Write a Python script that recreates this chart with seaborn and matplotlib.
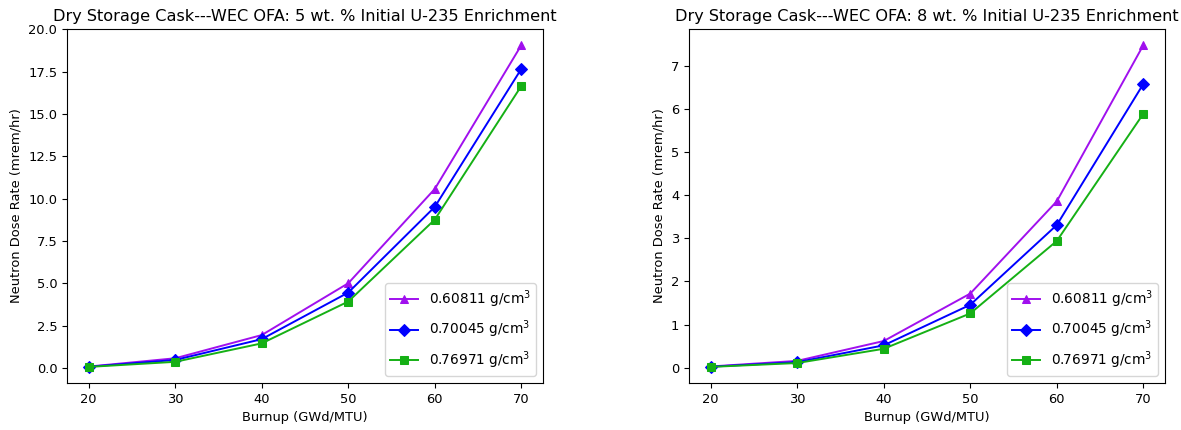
import matplotlib
matplotlib.use("Agg")
import matplotlib.pyplot as plt
import seaborn as sns
import pandas as pd

burnup = [20, 30, 40, 50, 60, 70]
labels = ["0.60811 g/cm$^3$", "0.70045 g/cm$^3$", "0.76971 g/cm$^3$"]

# 5 wt.% enrichment
dose5_a = [0.08, 0.57, 1.94, 5.00, 10.57, 19.06]
dose5_b = [0.07, 0.47, 1.70, 4.45, 9.51, 17.66]
dose5_c = [0.06, 0.36, 1.45, 3.92, 8.76, 16.65]

# 8 wt.% enrichment
dose8_a = [0.03, 0.16, 0.62, 1.72, 3.86, 7.48]
dose8_b = [0.025, 0.13, 0.52, 1.46, 3.31, 6.58]
dose8_c = [0.02, 0.11, 0.44, 1.26, 2.94, 5.89]

titles = [
    "Dry Storage Cask---WEC OFA: 5 wt. % Initial U-235 Enrichment",
    "Dry Storage Cask---WEC OFA: 8 wt. % Initial U-235 Enrichment",
]

colors = ["#a010ee", "#0000ff", "#15b015"]
markers = ["^", "D", "s"]

plt.rcParams["font.size"] = 9.4

fig = plt.figure(figsize=(11.81, 4.30), dpi=100)
ax1 = fig.add_axes([67 / 1181, 47 / 430, 476 / 1181, 354 / 430])
ax2 = fig.add_axes([689 / 1181, 47 / 430, 476 / 1181, 354 / 430])

for ax, series, title in [
    (ax1, [dose5_a, dose5_b, dose5_c], titles[0]),
    (ax2, [dose8_a, dose8_b, dose8_c], titles[1]),
]:
    for vals, lab, col, mk in zip(series, labels, colors, markers):
        df = pd.DataFrame({"Burnup": burnup, "Dose": vals})
        sns.lineplot(data=df, x="Burnup", y="Dose", ax=ax, color=col,
                     marker=mk, markersize=6, markeredgecolor=col,
                     label=lab, linewidth=1.4)
    ax.set_title(title, fontsize=11.6)
    ax.set_xlabel("Burnup (GWd/MTU)")
    ax.set_ylabel("Neutron Dose Rate (mrem/hr)")
    ax.set_xticks([20, 30, 40, 50, 60, 70])
    ax.legend(loc="lower right", fontsize=9.8, labelspacing=0.65)

fig.savefig("out.png", dpi=100)
